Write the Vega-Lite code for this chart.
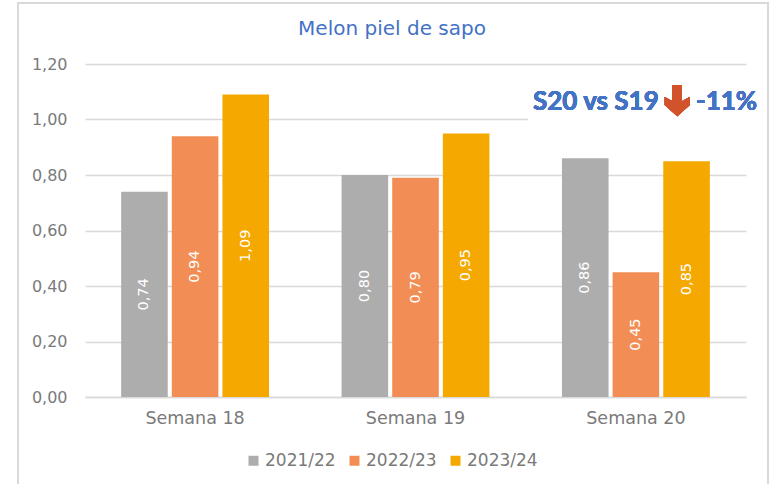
{
"$schema":"https://vega.github.io/schema/vega-lite/v6.json",
"width":661,"height":333,
"autosize":{"type":"none"},
"padding":{"left":85,"top":64,"right":26,"bottom":87},
"background":"white",
"title":{"text":"Melon piel de sapo","anchor":"middle","dx":-23.5,"offset":-37,"font":"DejaVu Sans","fontSize":20,"fontWeight":"normal","color":"#4472c4"},
"config":{"view":{"stroke":null},"font":"DejaVu Sans"},
"data":{"values":[
{"semana":"Semana 18","campana":"2021/22","valor":0.74,"mitad":0.37,"etiqueta":"0,74"},
{"semana":"Semana 18","campana":"2022/23","valor":0.94,"mitad":0.47,"etiqueta":"0,94"},
{"semana":"Semana 18","campana":"2023/24","valor":1.09,"mitad":0.545,"etiqueta":"1,09"},
{"semana":"Semana 19","campana":"2021/22","valor":0.80,"mitad":0.40,"etiqueta":"0,80"},
{"semana":"Semana 19","campana":"2022/23","valor":0.79,"mitad":0.395,"etiqueta":"0,79"},
{"semana":"Semana 19","campana":"2023/24","valor":0.95,"mitad":0.475,"etiqueta":"0,95"},
{"semana":"Semana 20","campana":"2021/22","valor":0.86,"mitad":0.43,"etiqueta":"0,86"},
{"semana":"Semana 20","campana":"2022/23","valor":0.45,"mitad":0.225,"etiqueta":"0,45"},
{"semana":"Semana 20","campana":"2023/24","valor":0.85,"mitad":0.425,"etiqueta":"0,85"}
]},
"resolve":{"scale":{"x":"independent","y":"independent"},"axis":{"x":"independent","y":"independent"}},
"layer":[
{"layer":[
{"mark":{"type":"bar","clip":false},
"encoding":{
"x":{"field":"semana","type":"nominal","title":null,"scale":{"paddingInner":0.329,"paddingOuter":0.164},
"axis":{"labelAngle":0,"labelFont":"DejaVu Sans","labelFontSize":17.5,"labelColor":"#7a7a7a","labelPadding":12,"ticks":false,"domainColor":"#d9d9d9","domainWidth":1.5,"grid":false}},
"xOffset":{"field":"campana","type":"nominal","scale":{"paddingInner":0.08}},
"y":{"field":"valor","type":"quantitative","title":null,"scale":{"domain":[0,1.2]},
"axis":{"values":[0,0.2,0.4,0.6,0.8,1,1.2],"labelExpr":"replace(format(datum.value,'.2f'),'.',',')","labelFont":"DejaVu Sans","labelFontSize":16,"labelColor":"#7a7a7a","labelPadding":18,"ticks":false,"domain":false,"grid":true,"gridColor":"#d9d9d9","gridWidth":1.5}},
"color":{"field":"campana","type":"nominal","title":null,"scale":{"domain":["2021/22","2022/23","2023/24"],"range":["#adadad","#f28e55","#f5a800"]},
"legend":{"orient":"none","legendX":160,"legendY":388,"direction":"horizontal","symbolType":"square","symbolSize":100,"symbolStrokeWidth":0,"labelFont":"DejaVu Sans","labelFontSize":17,"labelColor":"#7a7a7a","columnPadding":10,"labelOffset":3,"padding":0}}
}},
{"mark":{"type":"text","angle":270,"align":"center","baseline":"middle","color":"#ffffff","fontSize":14.5,"font":"DejaVu Sans"},
"encoding":{
"x":{"field":"semana","type":"nominal"},
"xOffset":{"field":"campana","type":"nominal"},
"y":{"field":"mitad","type":"quantitative"},
"text":{"field":"etiqueta"}
}}
]},
{"mark":{"type":"rect","filled":false,"stroke":"#d9d9d9","strokeWidth":1.5,"clip":false},
"encoding":{
"x":{"datum":0,"type":"quantitative","scale":{"domain":[0,1],"range":[-67,683]},"axis":null},
"x2":{"datum":1},
"y":{"datum":0,"type":"quantitative","scale":{"domain":[0,1],"range":[430,-61]},"axis":null},
"y2":{"datum":1}
}},
{"mark":{"type":"rect","fill":"white","clip":false},
"encoding":{
"x":{"datum":0.681,"type":"quantitative","scale":{"domain":[0,1],"range":[-67,683]},"axis":null},
"x2":{"datum":0.985},
"y":{"datum":0.7515,"type":"quantitative","scale":{"domain":[0,1],"range":[430,-61]},"axis":null},
"y2":{"datum":0.833}
}},
{"mark":{"type":"text","text":"S20 vs S19","align":"left","baseline":"middle","font":"Lato","fontWeight":"bold","fontSize":26,"color":"#4472c4"},
"encoding":{
"x":{"datum":0.6867,"type":"quantitative","scale":{"domain":[0,1],"range":[-67,683]},"axis":null},
"y":{"datum":0.798,"type":"quantitative","scale":{"domain":[0,1],"range":[430,-61]},"axis":null}
}},
{"mark":{"type":"text","text":"-11%","align":"left","baseline":"middle","font":"Lato","fontWeight":"bold","fontSize":26,"color":"#4472c4"},
"encoding":{
"x":{"datum":0.904,"type":"quantitative","scale":{"domain":[0,1],"range":[-67,683]},"axis":null},
"y":{"datum":0.798,"type":"quantitative","scale":{"domain":[0,1],"range":[430,-61]},"axis":null}
}},
{"mark":{"type":"point","filled":true,"fill":"#d2522c","opacity":1,"size":625,"shape":"M-0.38,-1.25 L0.38,-1.25 L0.38,0.05 L1,-0.3 L1,0.35 L0,1.25 L-1,0.35 L-1,-0.3 L-0.38,0.05 Z"},
"encoding":{
"x":{"datum":0.879,"type":"quantitative","scale":{"domain":[0,1],"range":[-67,683]},"axis":null},
"y":{"datum":0.801,"type":"quantitative","scale":{"domain":[0,1],"range":[430,-61]},"axis":null}
}}
]
}
